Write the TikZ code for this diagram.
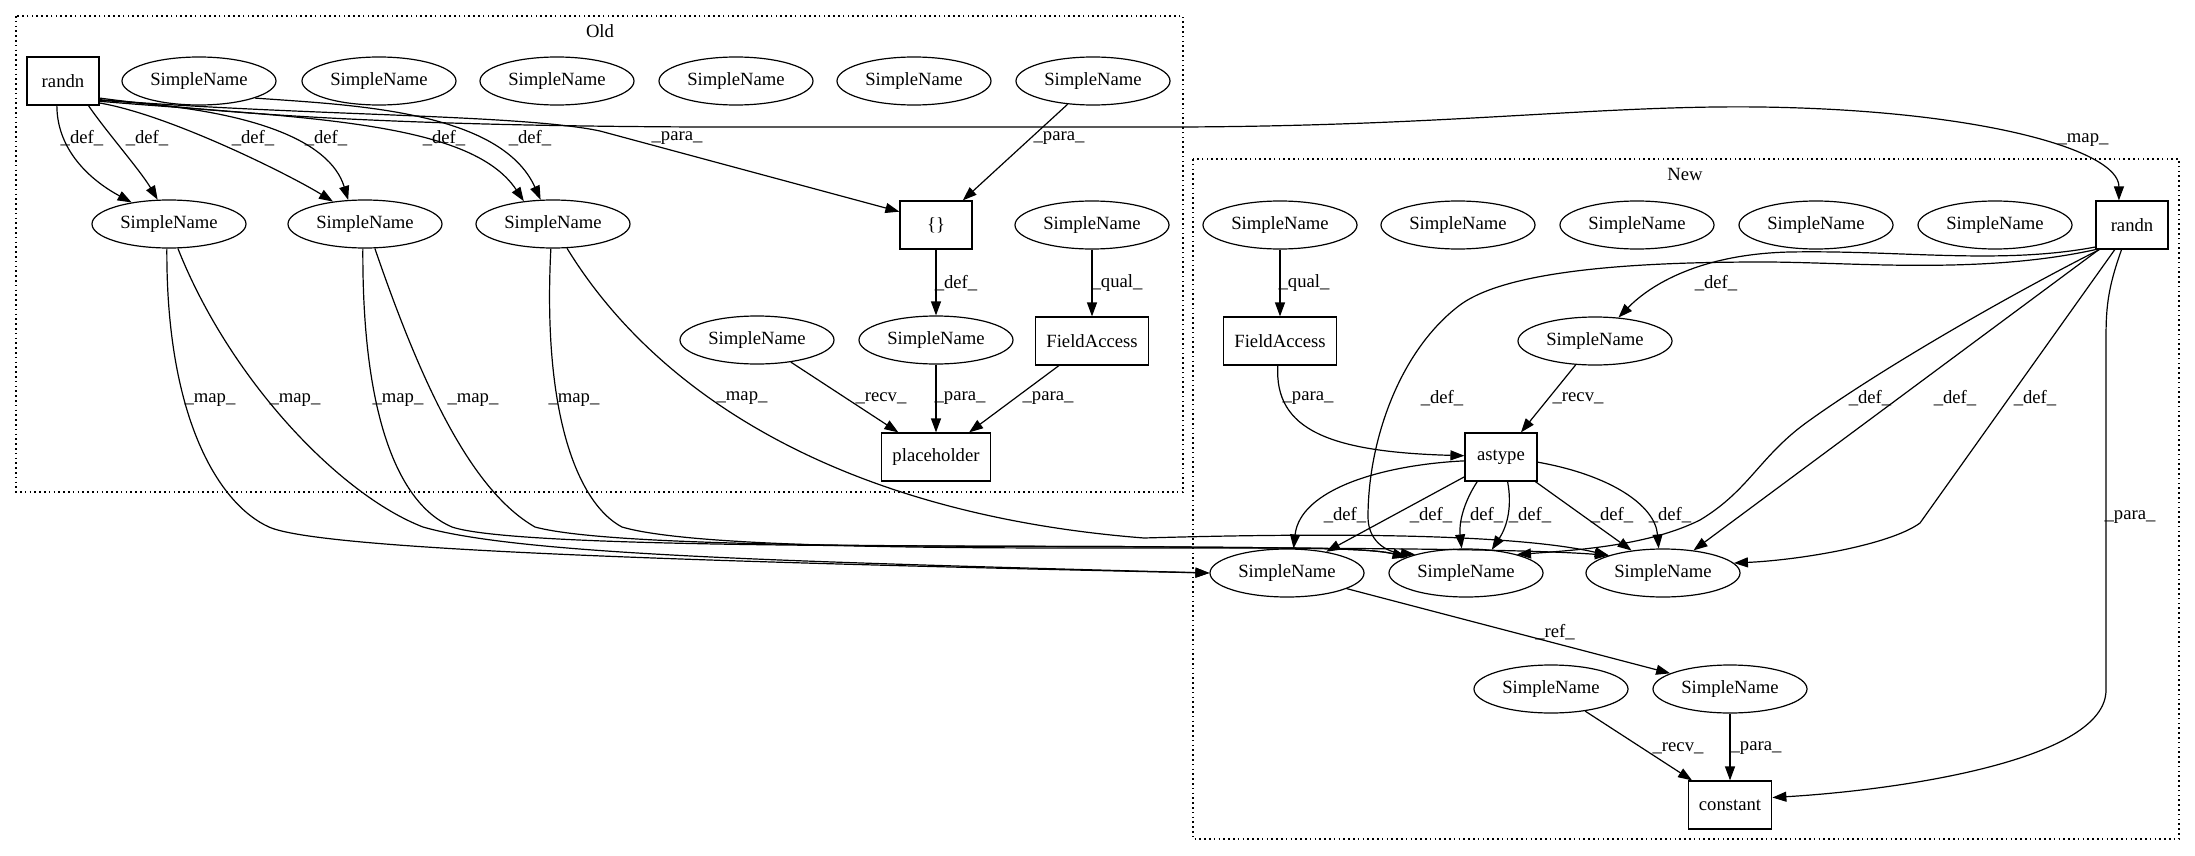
\documentclass[tikz,border=0pt]{standalone}
\usepackage{fontspec}
\setmainfont{Liberation Serif}
\usetikzlibrary{shapes.geometric,arrows.meta}

\begin{document}
\begin{tikzpicture}[x=0.75pt,y=-0.75pt,font=\fontsize{14}{16}\selectfont,
	sname/.style={draw,ellipse,line width=0.9pt,inner sep=0pt,minimum width=115.5pt,minimum height=36pt},
	op/.style={draw,rectangle,line width=0.9pt,inner xsep=8pt,minimum width=54pt,minimum height=36pt},
	link/.style={-{Triangle[length=10.5pt,width=7.5pt]},line width=0.9pt},
	lbl/.style={inner sep=0pt},
	cluster/.style={line width=0.9pt,dash pattern=on 1.2pt off 2.4pt}]
					%\draw[help lines] (0,0) grid (2195,856);
					\useasboundingbox (0,0) rectangle (2195,856);
					
					%OLD
					\draw[cluster] (16,16) rectangle (1183,492);
					\node (oldtitle) at (600,31) {Old};
					\node[op] (orandn) at (63,81) {randn};
					\node[sname] (osn1) at (199,81) {SimpleName};
					\node[sname] (osn2) at (379,81) {SimpleName};
					\node[sname] (osn3) at (557,81) {SimpleName};
					\node[sname] (osn4) at (736,81) {SimpleName};
					\node[sname] (osn5) at (914,81) {SimpleName};
					\node[sname] (osn6) at (1093,81) {SimpleName};
					\node[sname] (oa) at (169,224) {SimpleName};
					\node[sname] (ob) at (365,224) {SimpleName};
					\node[sname] (oc) at (553,224) {SimpleName};
					\node[op] (obrace) at (936,225) {\{\}};
					\node[sname] (oqsn) at (1092,225) {SimpleName};
					\node[sname] (orsn) at (757,340) {SimpleName};
					\node[sname] (opsn) at (936,340) {SimpleName};
					\node[op] (ofa) at (1092,341) {FieldAccess};
					\node[op] (oph) at (936,457) {placeholder};
					
					%NEW
					\draw[cluster] (1193,159) rectangle (2179,839);
					\node (newtitle) at (1685,174) {New};
					\node[sname] (nqsn) at (1280,225) {SimpleName};
					\node[sname] (nsn2) at (1458,225) {SimpleName};
					\node[sname] (nsn3) at (1637,225) {SimpleName};
					\node[sname] (nsn4) at (1816,225) {SimpleName};
					\node[sname] (nsn5) at (1995,225) {SimpleName};
					\node[op] (nrandn) at (2132,225) {randn};
					\node[op] (nfa) at (1280,341) {FieldAccess};
					\node[sname] (nrsn) at (1595,341) {SimpleName};
					\node[op] (nastype) at (1501,457) {astype};
					\node[sname] (na) at (1287,573) {SimpleName};
					\node[sname] (nb) at (1466,573) {SimpleName};
					\node[sname] (nc) at (1663,573) {SimpleName};
					\node[sname] (ncsn) at (1551,689) {SimpleName};
					\node[sname] (npsn) at (1730,689) {SimpleName};
					\node[op] (nconst) at (1730,805) {constant};
					
					%OLD EDGES
					\draw[link] (orandn.256) .. controls (57,150) and (90,180) .. (oa.150) node[lbl] at (82,138) {\_def\_};
					\draw[link] (orandn.-44) .. controls (105,130) and (140,170) .. (oa.115) node[lbl] at (147,138) {\_def\_};
					\draw[link] (orandn.-31) .. controls (170,115) and (290,175) .. (ob.145) node[lbl] at (253,138) {\_def\_};
					\draw[link] (orandn.-28) .. controls (250,108) and (330,140) .. (ob.125) node[lbl] at (326,138) {\_def\_};
					\draw[link] (orandn.-29) .. controls (300,118) and (470,120) .. (oc.142) node[lbl] at (444,138) {\_def\_};
					\draw[link] (osn1.-17) .. controls (350,105) and (500,110) .. (oc.117) node[lbl] at (530,138) {\_def\_};
					\draw[link] (orandn.-27) .. controls (300,116) and (520,114) .. (600,131) -- (obrace.160) node[lbl] at (677,138) {\_para\_};
					\draw[link] (osn6) -- (obrace) node[lbl] at (1059,138) {\_para\_};
					\draw[link] (obrace) -- (opsn) node[lbl] at (956,283) {\_def\_};
					\draw[link] (oqsn) -- (ofa) node[lbl] at (1117,283) {\_qual\_};
					\draw[link] (orsn) -- (oph) node[lbl] at (881,398) {\_recv\_};
					\draw[link] (opsn) -- (oph) node[lbl] at (960,398) {\_para\_};
					\draw[link] (ofa) -- (oph) node[lbl] at (1048,398) {\_para\_};
					
					%MAP
					\draw[link] (orandn.-25) .. controls (250,118) and (450,126) .. (700,127) -- (1180,127) .. controls (1450,126) and (1600,105) .. (1760,107) .. controls (1980,110) and (2119,150) .. (nrandn.118) node[lbl] at (2083,140) {\_map\_};
					\draw[link] (oa.265) .. controls (166,420) and (220,505) .. (269,527) .. controls (320,550) and (700,562) .. (na.180) node[lbl] at (210,400) {\_map\_};
					\draw[link] (oa.-70) .. controls (230,380) and (340,495) .. (423,527) .. controls (520,555) and (800,562) .. (na.180) node[lbl] at (295,400) {\_map\_};
					\draw[link] (ob.265) .. controls (362,420) and (400,505) .. (452,527) .. controls (520,550) and (1000,545) .. (1180,547) .. controls (1300,548) and (1370,548) .. (nb.165) node[lbl] at (398,400) {\_map\_};
					\draw[link] (ob.-68) .. controls (420,380) and (470,490) .. (535,527) .. controls (620,550) and (1000,545) .. (1180,547) .. controls (1300,548) and (1370,548) .. (nb.165) node[lbl] at (473,400) {\_map\_};
					\draw[link] (oc.265) .. controls (542,420) and (580,505) .. (622,527) .. controls (700,550) and (1000,548) .. (1190,548) .. controls (1400,548) and (1540,550) .. (nc.162) node[lbl] at (574,400) {\_map\_};
					\draw[link] (oc.-60) .. controls (660,400) and (850,515) .. (1144,538) .. controls (1350,532) and (1520,535) .. (nc.162) node[lbl] at (742,398) {\_map\_};
					
					%NEW EDGES
					\draw[link] (nqsn) -- (nfa) node[lbl] at (1304,283) {\_qual\_};
					\draw[link] (nfa.265) .. controls (1274,430) and (1330,452) .. (nastype.178) node[lbl] at (1308,398) {\_para\_};
					\draw[link] (nrsn) -- (nastype) node[lbl] at (1578,398) {\_recv\_};
					\draw[link] (nrandn.211) .. controls (2000,265) and (1900,250) .. (1790,252) .. controls (1700,254) and (1650,285) .. (nrsn.45) node[lbl] at (1716,283) {\_def\_};
					\draw[link] (nrandn.214) .. controls (1980,275) and (1850,262) .. (1763,262) .. controls (1650,262) and (1510,268) .. (1460,305) .. controls (1400,350) and (1368,440) .. (1368,517) .. controls (1368,540) and (1385,552) .. (nb.160) node[lbl] at (1442,398) {\_def\_};
					\draw[link] (nrandn.217) .. controls (2000,300) and (1880,370) .. (1810,420) .. controls (1760,455) and (1750,490) .. (1700,520) .. controls (1650,545) and (1580,550) .. (nb.20) node[lbl] at (1870,398) {\_def\_};
					\draw[link] (nrandn) -- (nc) node[lbl] at (1955,398) {\_def\_};
					\draw[link] (nrandn.235) -- (1920,523) .. controls (1890,545) and (1800,560) .. (nc.8) node[lbl] at (2035,398) {\_def\_};
					\draw[link] (nrandn.247) .. controls (2107,290) and (2106,310) .. (2106,340) -- (2106,690) .. controls (2106,760) and (1900,790) .. (nconst.10) node[lbl] at (2130,517) {\_para\_};
					\draw[link] (nastype.186) .. controls (1380,465) and (1300,490) .. (na.75) node[lbl] at (1345,515) {\_def\_};
					\draw[link] (nastype) -- (na) node[lbl] at (1431,515) {\_def\_};
					\draw[link] (nastype.226) .. controls (1462,505) and (1459,525) .. (nb.100) node[lbl] at (1482,515) {\_def\_};
					\draw[link] (nastype.-75) .. controls (1512,505) and (1508,525) .. (nb.42) node[lbl] at (1530,515) {\_def\_};
					\draw[link] (nastype) -- (nc) node[lbl] at (1612,515) {\_def\_};
					\draw[link] (nastype.-8) .. controls (1610,475) and (1655,505) .. (nc.100) node[lbl] at (1670,515) {\_def\_};
					\draw[link] (na) -- (npsn) node[lbl] at (1555,632) {\_ref\_};
					\draw[link] (ncsn) -- (nconst) node[lbl] at (1678,748) {\_recv\_};
					\draw[link] (npsn) -- (nconst) node[lbl] at (1756,748) {\_para\_};
					
\end{tikzpicture}
\end{document}
